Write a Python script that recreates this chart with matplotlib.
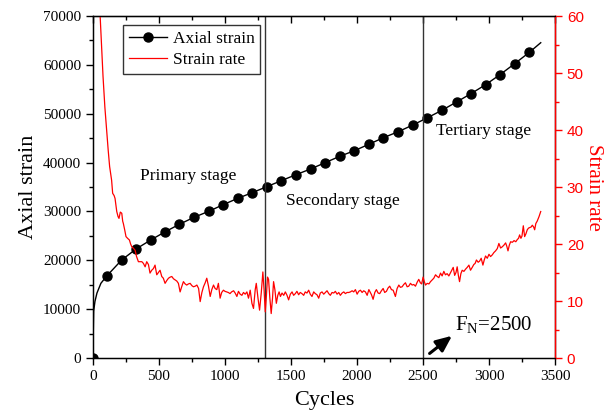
import matplotlib
matplotlib.use("Agg")
import matplotlib.pyplot as plt
from matplotlib.ticker import MultipleLocator

plt.rcParams['font.family'] = ['Liberation Serif', 'DejaVu Serif']
plt.rcParams['mathtext.fontset'] = 'custom'
plt.rcParams['mathtext.rm'] = 'Liberation Serif'
plt.rcParams['mathtext.it'] = 'Liberation Serif'

# ---- data ----
strain_cycles = [0, 2, 5, 15, 30, 60,
                 104, 217, 326, 437, 548, 654, 765, 877, 987, 1098, 1207, 1318,
                 1426, 1537, 1648, 1758, 1869, 1980, 2089, 2200, 2312, 2423, 2534,
                 2643, 2754, 2863, 2974, 3083, 3194, 3306, 3392]
strain_values = [0, 5000, 9600, 11600, 13300, 15300,
                 16784, 20059, 22313, 24152, 25858, 27362, 28798, 30028, 31392, 32702,
                 33850, 35082, 36290, 37518, 38685, 39975, 41284, 42430, 43740, 45091,
                 46319, 47690, 49184, 50699, 52398, 54097, 55939, 57986, 60237, 62570, 64535]
marker_idx = [0] + list(range(6, 36))

rate_cycles = [30, 50, 60, 76, 90, 101, 115, 126, 141, 149, 160, 167, 175, 180, 190, 197,
               207, 218, 225, 230, 240, 250, 262, 276, 285, 294, 305, 319, 330, 344,
               357, 370, 382, 395, 407, 420, 432, 445, 458, 470, 483, 495, 508, 521, 533,
               546, 559, 572, 585, 597, 610, 622, 635, 647, 660, 672, 685, 698, 710, 723,
               736, 749, 761, 774, 787, 800, 812, 825, 837, 850, 862, 875, 888, 900, 913,
               925, 938, 950, 963, 975, 988, 1000, 1013, 1025, 1038, 1050, 1065, 1077,
               1090, 1102, 1115, 1128, 1140, 1153, 1166, 1178, 1191, 1204, 1216, 1229,
               1237, 1250, 1262, 1275, 1287, 1296, 1305, 1314, 1322, 1330, 1340, 1350,
               1360, 1368, 1378, 1389, 1400, 1410, 1420, 1432, 1445, 1457, 1470, 1482,
               1495, 1508, 1520, 1533, 1545, 1558, 1570, 1583, 1596, 1608, 1621, 1634,
               1646, 1659, 1672, 1684, 1697, 1710, 1722, 1735, 1748, 1760, 1773, 1786,
               1798, 1811, 1824, 1836, 1849, 1862, 1874, 1887, 1900, 1912, 1925, 1938,
               1950, 1963, 1975, 1988, 2001, 2013, 2026, 2039, 2051, 2064, 2077, 2090,
               2110, 2122, 2135, 2147, 2160, 2172, 2185, 2198, 2210, 2223, 2236, 2248,
               2261, 2274, 2291, 2304, 2317, 2329, 2342, 2354, 2367, 2380, 2392, 2405,
               2418, 2430, 2443, 2456, 2468, 2480, 2490, 2501, 2510, 2519, 2532, 2545,
               2557, 2570, 2582, 2595, 2608, 2620, 2633, 2645, 2658, 2670, 2683, 2696,
               2709, 2720, 2729, 2740, 2750, 2759, 2768, 2777, 2787, 2797, 2810, 2823,
               2835, 2848, 2860, 2873, 2885, 2895, 2905, 2918, 2929, 2941, 2954, 2964,
               2974, 2987, 3000, 3012, 3025, 3037, 3050, 3063, 3075, 3088, 3100, 3113,
               3126, 3135, 3144, 3154, 3164, 3177, 3190, 3203, 3215, 3224, 3232, 3242,
               3250, 3260, 3270, 3280, 3290, 3300, 3310, 3320, 3328, 3338, 3346, 3355,
               3365, 3379, 3392]
rate_values = [80, 62, 57, 49.4, 44, 40.6, 36.5, 33.6, 31.2, 28.9, 28.5, 28.0, 26.5, 25.7,
               24.8, 24.5, 25.6, 25.4, 24.0, 23.6, 22.5, 21.3, 21.0, 20.7, 20.0, 19.5,
               19.3, 18.9, 17.8, 16.9,
               16.9, 16.9, 16.6, 16.0, 16.9, 16.4, 14.9, 15.4, 15.7, 16.3, 14.6, 15.0,
               15.4, 14.3, 14.0, 13.1, 13.6, 14.0, 14.2, 14.3, 13.9, 13.7, 13.5, 13.1,
               11.6, 12.5, 13.4, 13.0, 12.8, 13.0, 13.1, 12.7, 12.5, 12.6, 12.8, 12.2,
               9.9, 11.5, 12.5, 13.2, 14.0, 12.6, 10.8, 12.0, 12.8, 12.2, 12.0, 13.1,
               10.5, 11.5, 11.9, 11.7, 11.6, 11.5, 11.3, 11.6, 11.8, 11.4, 10.8, 11.7,
               11.2, 11.0, 11.5, 11.2, 11.6, 10.5, 11.9, 9.6, 8.7, 12.0, 13.1, 10.5,
               8.4, 11.5, 15.1, 12.0, 8.1, 11.0, 14.2, 13.8, 10.5, 7.8, 10.5, 13.4,
               12.0, 9.6, 11.0, 11.6, 10.8, 11.4, 11.0, 11.6, 11.0, 10.2, 11.2, 11.6,
               11.0, 11.3, 11.7, 11.1, 11.5, 11.3, 11.0, 11.6, 11.4, 11.9, 11.2, 10.8,
               11.6, 11.3, 11.1, 10.5, 11.4, 11.6, 11.2, 11.5, 11.8, 11.3, 11.0, 11.5,
               11.4, 11.7, 11.2, 11.5, 11.0, 11.4, 11.6, 11.3, 11.5, 11.5, 11.6, 11.8,
               11.6, 12.0, 11.2, 11.7, 11.9, 11.5, 11.8, 11.6, 11.0, 12.0,
               11.1, 10.3, 11.5, 12.0, 11.4, 11.3, 11.8, 12.2, 11.5, 11.7, 12.3, 12.6,
               12.0, 11.9, 10.8, 12.2, 12.8, 12.4, 12.5, 12.9, 13.2, 12.5, 12.6, 13.1,
               12.8, 12.9, 12.6, 13.3, 13.8, 13.2, 13.0, 14.2, 13.4, 12.8, 13.1, 13.0,
               13.4, 13.7, 14.0, 14.6, 14.3, 14.1, 14.9, 14.4, 15.2, 14.6, 14.8, 14.4,
               15.0, 15.5, 15.9, 14.5, 15.0, 16.0, 14.5, 13.4, 14.8, 15.4, 15.2, 15.6,
               15.9, 16.3, 15.4, 15.9, 16.4, 16.6, 17.2, 16.8, 17.0, 17.5, 16.3, 17.2,
               17.9, 17.5, 18.2, 17.8, 18.1, 18.5, 18.8, 19.2, 20.1, 19.3, 19.5, 19.8,
               20.2, 19.6, 18.8, 19.8, 20.4, 20.3, 20.6, 20.4, 20.8, 21.0, 21.6, 21.0,
               21.4, 23.2, 21.3, 21.8, 22.5, 22.8, 22.9, 23.0, 23.3, 23.0, 22.5, 23.6,
               24.0, 24.8, 25.7]

stage_boundaries = [1300, 2500]
stage_labels = ["Primary stage", "Secondary stage", "Tertiary stage"]
stage_label_x = [720, 1890, 2960]
stage_label_y = [37250, 32135, 46460]

# ---- figure ----
fig = plt.figure(figsize=(6.09, 4.15), dpi=100)
ax = fig.add_axes([0.1527, 0.1373, 0.9113 - 0.1527, 0.9614 - 0.1373])
ax2 = ax.twinx()

l1, = ax.plot(strain_cycles, strain_values, color='black', lw=1.0,
              marker='o', markersize=6.5, markevery=marker_idx,
              markerfacecolor='black', markeredgecolor='black', label='Axial strain')
l2, = ax2.plot(rate_cycles, rate_values, color='red', lw=0.9, label='Strain rate')

for xb in stage_boundaries:
    ax.axvline(xb, color='#333333', lw=1.0)

for txt, xx, yy in zip(stage_labels, stage_label_x, stage_label_y):
    ax.text(xx, yy, txt, ha='center', va='center', fontsize=12.5)

ax.set_xlim(0, 3500)
ax.set_ylim(0, 70000)
ax2.set_ylim(0, 60)

ax.xaxis.set_major_locator(MultipleLocator(500))
ax.xaxis.set_minor_locator(MultipleLocator(250))
ax.yaxis.set_major_locator(MultipleLocator(10000))
ax.yaxis.set_minor_locator(MultipleLocator(5000))
ax2.yaxis.set_major_locator(MultipleLocator(10))
ax2.yaxis.set_minor_locator(MultipleLocator(5))

ax.tick_params(axis='both', which='major', direction='out', length=5, width=1, labelsize=11)
ax.tick_params(axis='both', which='minor', direction='out', length=3, width=1)
ax.tick_params(axis='y', right=False)

sec = ax.secondary_xaxis('top')
sec.xaxis.set_major_locator(MultipleLocator(500))
sec.xaxis.set_minor_locator(MultipleLocator(250))
sec.tick_params(which='major', direction='in', length=5, width=1, labeltop=False)
sec.tick_params(which='minor', direction='in', length=3, width=1)

ax2.tick_params(axis='y', which='major', direction='out', length=5, width=1,
                colors='red', labelsize=11)
ax2.tick_params(axis='y', which='minor', direction='out', length=3, width=1, colors='red')
for lab in ax2.get_yticklabels():
    lab.set_fontfamily('Liberation Sans')
ax2.spines['right'].set_color('red')
ax2.spines['right'].set_linewidth(1.0)

for sp in ax.spines.values():
    sp.set_linewidth(1.0)

ax.set_xlabel('Cycles', fontsize=16, labelpad=6)
ax.set_ylabel('Axial strain', fontsize=16, labelpad=4)
ax2.set_ylabel('Strain rate', fontsize=15, color='red', rotation=270, labelpad=14)

leg = ax.legend(handles=[l1, l2], loc='upper left', bbox_to_anchor=(0.065, 0.974),
                borderaxespad=0, fontsize=12.5, frameon=True, fancybox=False,
                handlelength=2.2, borderpad=0.35, labelspacing=0.25, handletextpad=0.3)
leg.get_frame().set_edgecolor('black')
leg.get_frame().set_linewidth(1.0)

ax2.annotate('', xy=(2720, 3.9), xytext=(2550, 0.8),
             arrowprops=dict(arrowstyle='-|>,head_length=0.8,head_width=0.35',
                             color='black', lw=2.2, mutation_scale=12,
                             shrinkA=0, shrinkB=0))
ax2.text(2745, 4.0, r'F$_\mathregular{N}$=2500', fontsize=15, ha='left', va='bottom')

fig.savefig('out.png', dpi=100)
